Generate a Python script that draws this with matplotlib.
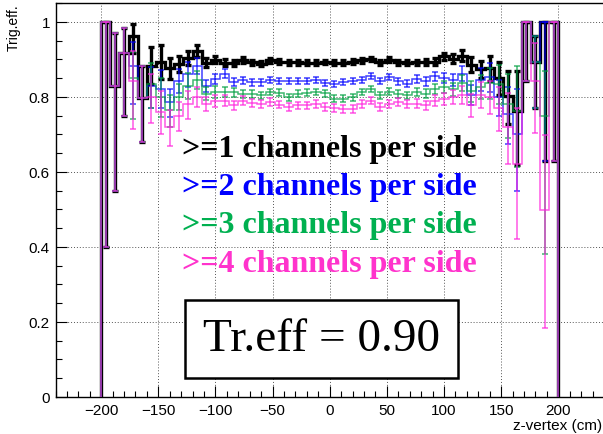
import numpy as np
import matplotlib
matplotlib.use("Agg")
import matplotlib.pyplot as plt
from matplotlib.ticker import MultipleLocator

# 50 bins of 8 cm from -200 to 200
bin_edges = np.arange(-200, 201, 8)

eff_ge1 = [1.0, 0.83, 0.917, 0.963, 0.797, 0.883, 0.893, 0.876, 0.888, 0.903,
           0.923, 0.891, 0.899, 0.891, 0.891, 0.899, 0.892, 0.888, 0.897, 0.894,
           0.892, 0.892, 0.891, 0.891, 0.893, 0.891, 0.891, 0.894, 0.897, 0.901,
           0.892, 0.899, 0.892, 0.891, 0.892, 0.894, 0.894, 0.908, 0.901, 0.910,
           0.885, 0.873, 0.876, 0.850, 0.802, 0.763, 1.0, 0.894, 1.0, 1.0]
lo_ge1 = [0.60, 0.28, 0.167, 0.045, 0.117, 0.05, 0.045, 0.028, 0.022, 0.018,
          0.016, 0.012, 0.010, 0.009, 0.008, 0.008, 0.007, 0.007, 0.006, 0.006,
          0.006, 0.006, 0.006, 0.006, 0.006, 0.006, 0.006, 0.006, 0.006, 0.006,
          0.006, 0.006, 0.006, 0.007, 0.007, 0.008, 0.009, 0.010, 0.012, 0.015,
          0.020, 0.023, 0.033, 0.045, 0.075, 0.146, 0.157, 0.124, 0.37, 0.37]
hi_ge1 = [0.0, 0.14, 0.067, 0.032, 0.086, 0.05, 0.045, 0.028, 0.022, 0.018,
          0.016, 0.012, 0.010, 0.009, 0.008, 0.008, 0.007, 0.007, 0.006, 0.006,
          0.006, 0.006, 0.006, 0.006, 0.006, 0.006, 0.006, 0.006, 0.006, 0.006,
          0.006, 0.006, 0.006, 0.007, 0.007, 0.008, 0.009, 0.010, 0.012, 0.015,
          0.020, 0.023, 0.033, 0.042, 0.068, 0.107, 0.0, 0.068, 0.0, 0.0]

eff_ge2 = [1.0, 0.83, 0.917, 0.882, 0.797, 0.829, 0.821, 0.786, 0.843, 0.861,
           0.882, 0.830, 0.848, 0.861, 0.839, 0.844, 0.839, 0.839, 0.846, 0.841,
           0.841, 0.841, 0.843, 0.844, 0.837, 0.835, 0.839, 0.841, 0.844, 0.855,
           0.841, 0.853, 0.841, 0.835, 0.848, 0.841, 0.855, 0.850, 0.845, 0.861,
           0.805, 0.846, 0.853, 0.799, 0.755, 0.70, 1.0, 0.894, 1.0, 1.0]
lo_ge2 = [0.60, 0.28, 0.167, 0.10, 0.117, 0.06, 0.05, 0.04, 0.032, 0.035,
          0.022, 0.016, 0.014, 0.012, 0.011, 0.010, 0.009, 0.009, 0.008, 0.008,
          0.008, 0.008, 0.008, 0.008, 0.008, 0.008, 0.008, 0.008, 0.008, 0.008,
          0.008, 0.008, 0.009, 0.009, 0.010, 0.011, 0.012, 0.014, 0.016, 0.020,
          0.026, 0.030, 0.040, 0.05, 0.08, 0.15, 0.157, 0.124, 0.37, 0.37]
hi_ge2 = [0.0, 0.14, 0.067, 0.064, 0.086, 0.05, 0.05, 0.035, 0.03, 0.033,
          0.022, 0.016, 0.014, 0.012, 0.011, 0.010, 0.009, 0.009, 0.008, 0.008,
          0.008, 0.008, 0.008, 0.008, 0.008, 0.008, 0.008, 0.008, 0.008, 0.008,
          0.008, 0.008, 0.009, 0.009, 0.010, 0.011, 0.012, 0.014, 0.016, 0.020,
          0.026, 0.030, 0.038, 0.045, 0.07, 0.12, 0.0, 0.068, 0.0, 0.0]

eff_ge3 = [1.0, 0.83, 0.917, 0.85, 0.797, 0.835, 0.80, 0.765, 0.80, 0.83,
           0.845, 0.808, 0.8125, 0.8125, 0.8125, 0.808, 0.808, 0.8035, 0.8125, 0.8107,
           0.799, 0.808, 0.8107, 0.8125, 0.809, 0.795, 0.795, 0.799, 0.8125, 0.821,
           0.8035, 0.814, 0.808, 0.8035, 0.8125, 0.808, 0.821, 0.826, 0.82, 0.837,
           0.815, 0.825, 0.837, 0.835, 0.78, 0.763, 1.0, 0.894, 0.75, 1.0]
lo_ge3 = [0.60, 0.28, 0.167, 0.11, 0.117, 0.065, 0.055, 0.045, 0.035, 0.035,
          0.024, 0.017, 0.015, 0.013, 0.012, 0.011, 0.010, 0.010, 0.009, 0.009,
          0.009, 0.009, 0.009, 0.009, 0.009, 0.009, 0.009, 0.009, 0.009, 0.009,
          0.009, 0.009, 0.010, 0.010, 0.011, 0.012, 0.013, 0.015, 0.017, 0.021,
          0.028, 0.032, 0.042, 0.055, 0.09, 0.15, 0.157, 0.124, 0.37, 0.37]
hi_ge3 = [0.0, 0.14, 0.067, 0.07, 0.086, 0.055, 0.05, 0.04, 0.033, 0.033,
          0.024, 0.017, 0.015, 0.013, 0.012, 0.011, 0.010, 0.010, 0.009, 0.009,
          0.009, 0.009, 0.009, 0.009, 0.009, 0.009, 0.009, 0.009, 0.009, 0.009,
          0.009, 0.009, 0.010, 0.010, 0.011, 0.012, 0.013, 0.015, 0.017, 0.021,
          0.028, 0.032, 0.040, 0.05, 0.08, 0.12, 0.0, 0.068, 0.12, 0.0]

eff_ge4 = [1.0, 0.83, 0.917, 0.843, 0.797, 0.80, 0.76, 0.72, 0.75, 0.78,
           0.80, 0.781, 0.790, 0.790, 0.777, 0.790, 0.784, 0.781, 0.786, 0.779,
           0.7725, 0.777, 0.777, 0.781, 0.7725, 0.770, 0.768, 0.768, 0.781, 0.790,
           0.7725, 0.781, 0.786, 0.781, 0.781, 0.777, 0.790, 0.793, 0.80, 0.805,
           0.777, 0.805, 0.80, 0.77, 0.72, 0.62, 1.0, 0.843, 0.499, 1.0]
lo_ge4 = [0.60, 0.28, 0.167, 0.13, 0.117, 0.07, 0.06, 0.05, 0.04, 0.04,
          0.026, 0.019, 0.016, 0.014, 0.013, 0.012, 0.011, 0.011, 0.010, 0.010,
          0.010, 0.010, 0.010, 0.010, 0.010, 0.010, 0.010, 0.010, 0.010, 0.010,
          0.010, 0.010, 0.011, 0.011, 0.012, 0.013, 0.014, 0.016, 0.018, 0.023,
          0.03, 0.035, 0.045, 0.06, 0.10, 0.20, 0.157, 0.14, 0.315, 0.37]
hi_ge4 = [0.0, 0.14, 0.067, 0.08, 0.086, 0.06, 0.055, 0.045, 0.035, 0.035,
          0.026, 0.019, 0.016, 0.014, 0.013, 0.012, 0.011, 0.011, 0.010, 0.010,
          0.010, 0.010, 0.010, 0.010, 0.010, 0.010, 0.010, 0.010, 0.010, 0.010,
          0.010, 0.010, 0.011, 0.011, 0.012, 0.013, 0.014, 0.016, 0.018, 0.023,
          0.03, 0.035, 0.043, 0.055, 0.09, 0.15, 0.0, 0.1, 0.2, 0.0]

labels = [">=1 channels per side", ">=2 channels per side",
          ">=3 channels per side", ">=4 channels per side"]
colors = ["#000000", "#0000ff", "#00a040", "#ff22dd"]
text_colors = ["#000000", "#0000ff", "#00b050", "#ff33cc"]
tr_eff = 0.90

series = [(eff_ge1, lo_ge1, hi_ge1), (eff_ge2, lo_ge2, hi_ge2),
          (eff_ge3, lo_ge3, hi_ge3), (eff_ge4, lo_ge4, hi_ge4)]

plt.rcParams['font.family'] = ['Liberation Sans', 'DejaVu Sans']

fig = plt.figure(figsize=(6.03, 4.35), dpi=100)
ax = fig.add_axes([55.5 / 603, 37 / 435, 548.5 / 603, 394 / 435])

centers = 0.5 * (bin_edges[:-1] + bin_edges[1:])
for k, (vals, lo, hi) in enumerate(series):
    lw = 2.4 if k == 0 else 1.1
    alpha = 1.0 if k == 0 else 0.75
    ax.stairs(vals, bin_edges, baseline=0, color=colors[k], lw=lw, alpha=alpha, zorder=3 + k)
    ax.errorbar(centers, vals, yerr=[lo, hi], fmt='none', ecolor=colors[k],
                elinewidth=lw, capsize=2.5 if k else 2.0, capthick=lw,
                alpha=alpha, zorder=3 + k)

ax.set_xlim(-240, 240)
ax.set_ylim(0, 1.05)
ax.xaxis.set_major_locator(MultipleLocator(50))
ax.xaxis.set_minor_locator(MultipleLocator(10))
ax.yaxis.set_major_locator(MultipleLocator(0.2))
ax.yaxis.set_minor_locator(MultipleLocator(0.05))
ax.set_yticks([0, 0.2, 0.4, 0.6, 0.8, 1.0])
ax.set_yticklabels(["0", "0.2", "0.4", "0.6", "0.8", "1"])
ax.tick_params(which='major', direction='in', length=8, width=0.8, labelsize=11, pad=4)
ax.tick_params(which='minor', direction='in', length=4, width=0.8)
ax.tick_params(top=False, right=False, which='both')
ax.grid(True, which='major', color='#555555', linestyle=(0, (1, 2)), linewidth=0.7)
ax.set_axisbelow(True)
for s in ax.spines.values():
    s.set_linewidth(1.0)
ax.spines['right'].set_visible(False)

fig.text(0.998, 0.005, "z-vertex (cm)", ha='right', va='bottom', fontsize=11)
fig.text(0.022, 0.99, "Trig.eff.", ha='center', va='top', rotation=90, fontsize=10)

text_y = [0.661, 0.560, 0.459, 0.357]
for k in range(4):
    ax.text(-129, text_y[k], labels[k], color=text_colors[k], fontsize=23,
            fontweight='bold', family='Liberation Serif', va='center', ha='left', zorder=10)

ax.text(-7, 0.155, "Tr.eff = %.2f" % tr_eff, fontsize=34, family='Liberation Serif',
        ha='center', va='center', zorder=11,
        bbox=dict(boxstyle='square,pad=0.38', fc='white', ec='black', lw=1.8))

fig.savefig("out.png", dpi=100)
